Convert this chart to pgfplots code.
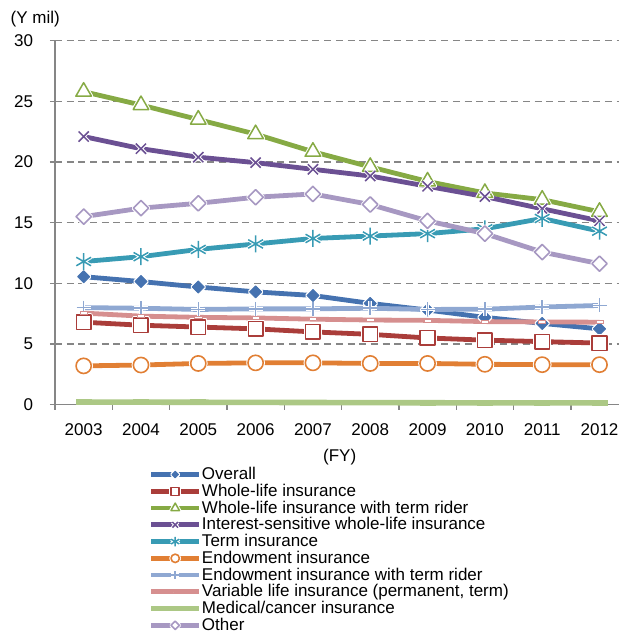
\documentclass[border=0pt]{standalone}
\usepackage{pgfplots}
\pgfplotsset{compat=1.18}
\usepackage{pgfplotstable}
\usepackage{fontspec}
\setmainfont{Liberation Sans}

\definecolor{cOverall}{RGB}{69,114,176}
\definecolor{cWhole}{RGB}{170,61,58}
\definecolor{cRider}{RGB}{134,170,68}
\definecolor{cISW}{RGB}{107,80,147}
\definecolor{cTerm}{RGB}{56,155,180}
\definecolor{cEndow}{RGB}{225,127,52}
\definecolor{cEndRider}{RGB}{143,168,210}
\definecolor{cVariable}{RGB}{214,143,143}
\definecolor{cMedical}{RGB}{172,200,133}
\definecolor{cOther}{RGB}{167,152,194}
\definecolor{axisgray}{RGB}{134,134,134}

\newcommand\fs{\fontsize{17}{17}\selectfont}

% Annual premium per policy by product type (Y mil), FY2003 (x=0) to FY2012 (x=9)
\pgfplotstableread{
x overall whole rider isw term endow endrider variable medical other
0 10.55 6.80 25.8 22.1 11.8 3.20 8.00 7.55 0.22 15.5
1 10.15 6.55 24.7 21.1 12.2 3.27 7.95 7.30 0.21 16.2
2 9.70 6.40 23.5 20.4 12.8 3.40 7.85 7.20 0.20 16.6
3 9.30 6.25 22.3 19.95 13.25 3.45 7.90 7.15 0.19 17.1
4 9.00 6.00 20.85 19.4 13.7 3.45 7.90 7.05 0.18 17.37
5 8.35 5.80 19.6 18.85 13.9 3.40 7.95 6.98 0.17 16.5
6 7.80 5.50 18.4 18.0 14.1 3.40 7.85 6.95 0.16 15.15
7 7.20 5.32 17.45 17.15 14.5 3.33 7.87 6.85 0.15 14.1
8 6.70 5.20 16.9 16.15 15.35 3.30 8.05 6.82 0.15 12.58
9 6.25 5.08 15.9 15.15 14.3 3.30 8.18 6.80 0.15 11.62
}\premiums

\tikzset{
  halo/.style={every mark/.append style={draw=white, fill=white, line width=3.5pt}},
  nohalo/.style={halo/.style={}},
  small mark/.style={every mark/.append style={scale=0.55}},
}

% one series: line, white marker halo, marker, legend entry
\newcommand\series[3]{%
  \addplot[#2, mark=none, forget plot] table[x=x, y=#1] {\premiums};
  \addplot[#2, only marks, halo, forget plot] table[x=x, y=#1] {\premiums};
  \addplot[#2, only marks, forget plot] table[x=x, y=#1] {\premiums};
  \addlegendimage{#2}
  \addlegendentry{#3}
}

\begin{document}
\begin{tikzpicture}
\begin{axis}[
  name=ax,
  scale only axis, width=564pt, height=364pt,
  xmin=-0.5, xmax=9.34, ymin=0, ymax=30,
  clip=false,
  axis x line*=bottom, axis y line*=left,
  axis line style={draw=axisgray, line width=1.3pt},
  xtick={0,...,9},
  xticklabels={2003,2004,2005,2006,2007,2008,2009,2010,2011,2012},
  minor xtick={-0.5,0.5,...,8.5},
  ytick={0,5,...,30},
  tick align=outside, tick pos=left,
  major tick length=5pt, minor tick length=5pt,
  tick style={draw=axisgray, line width=1.3pt},
  major x tick style={draw=none},
  ymajorgrids,
  major grid style={draw=axisgray, line width=1.2pt, dash pattern=on 7pt off 4.7pt},
  tick label style={font=\fs, text=black},
  /pgf/number format/assume math mode=true,
  yticklabel style={anchor=east, inner sep=0pt, xshift=-16.7pt},
  xticklabel style={anchor=north, inner sep=0pt, yshift=-13.7pt},
  legend cell align=left,
  legend style={
    at={(0.1656,-0.1717)}, anchor=north west,
    draw=none, fill=none, inner sep=0pt, outer sep=0pt,
    font=\fs, row sep=0pt, column sep=0pt,
    nodes={inner sep=0pt, text height=12.3pt, text depth=4.45pt},
  },
  legend image code/.code={%
    \draw[#1, mark=none] (0pt,1pt) -- (48pt,1pt);
    \draw[#1, small mark, halo] plot[only marks] coordinates {(24pt,1pt)};
    \draw[#1, small mark] plot[only marks] coordinates {(24pt,1pt)};
  },
]
\series{overall}{cOverall, line width=4.8pt, line join=round, mark=square*, mark size=4.3pt,
  mark options={rotate=45, fill=cOverall, draw=cOverall, line width=0.8pt}}{Overall}
\series{whole}{cWhole, line width=4.8pt, line join=round, mark=square*, mark size=7.3pt,
  mark options={fill=white, draw=cWhole, line width=1.6pt}}{Whole-life insurance}
\series{rider}{cRider, line width=4.8pt, line join=round, mark=triangle*, mark size=9pt,
  mark options={fill=white, draw=cRider, line width=1.5pt}}{Whole-life insurance with term rider}
\series{isw}{cISW, line width=4.8pt, line join=round, mark=x, mark size=7.2pt,
  mark options={draw=cISW, line width=1.5pt}}{Interest-sensitive whole-life insurance}
\series{term}{cTerm, line width=4.8pt, line join=round, mark=asterisk, mark size=8.5pt,
  mark options={draw=cTerm, line width=1.5pt}}{Term insurance}
\series{endow}{cEndow, line width=4.8pt, line join=round, mark=*, mark size=7.6pt,
  mark options={fill=white, draw=cEndow, line width=1.6pt}}{Endowment insurance}
\series{endrider}{cEndRider, line width=4.8pt, line join=round, mark=+, mark size=7pt,
  mark options={draw=cEndRider, line width=1.5pt}}{Endowment insurance with term rider}
\series{variable}{cVariable, nohalo, line width=4.8pt, line join=round, mark=square*, mark size=3.6pt,
  mark options={yscale=0.4, fill=white, draw=cVariable, line width=0.6pt}}{Variable life insurance (permanent, term)}
\series{medical}{cMedical, nohalo, line width=5.6pt, line join=round, mark=-, mark size=8pt,
  mark options={draw=cMedical, line width=5.6pt}}{Medical/cancer insurance}
\series{other}{cOther, line width=4.8pt, line join=round, mark=square*, mark size=5.4pt,
  mark options={rotate=45, fill=white, draw=cOther, line width=1.6pt}}{Other}
\end{axis}
\node[anchor=base west, inner sep=0pt, font=\fs] at ([xshift=-44.5pt, yshift=17.4pt]ax.north west) {(Y mil)};
\node[anchor=base, inner sep=0pt, font=\fs] at ([xshift=284.7pt, yshift=-57pt]ax.south west) {(FY)};
\pgfresetboundingbox
\path[use as bounding box] ([xshift=-55pt, yshift=-228.3pt]ax.south west) rectangle ([yshift=40.7pt]ax.north east);
\end{tikzpicture}
\end{document}
